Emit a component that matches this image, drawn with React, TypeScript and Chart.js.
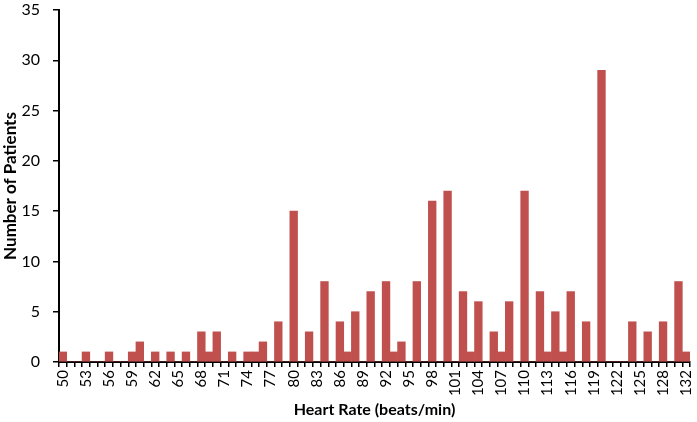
import React, { useEffect, useRef } from 'react';
import { Chart, registerables } from 'chart.js';

Chart.register(...registerables);

const heartRates: string[] = [
  '50', '51', '52', '53', '54', '55', '56', '57', '58', '59',
  '60', '61', '62', '63', '64', '65', '66', '67', '68', '69',
  '70', '71', '72', '73', '74', '75', '76', '77', '78', '79',
  '80', '81', '82', '83', '84', '85', '86', '87', '88', '89',
  '90', '91', '92', '93', '94', '95', '96', '97', '98', '99',
  '100', '101', '102', '103', '104', '105', '106', '107', '108', '109',
  '110', '111', '112', '113', '114', '115', '116', '117', '118', '119',
  '120', '121', '122', '123', '124', '125', '126', '127', '128', '129',
  '130', '132',
];

const patientCounts: number[] = [
  1, 0, 0, 1, 0, 0, 1, 0, 0, 1,
  2, 0, 1, 0, 1, 0, 1, 0, 3, 1,
  3, 0, 1, 0, 1, 1, 2, 0, 4, 0,
  15, 0, 3, 0, 8, 0, 4, 1, 5, 0,
  7, 0, 8, 1, 2, 0, 8, 0, 16, 0,
  17, 0, 7, 1, 6, 0, 3, 1, 6, 0,
  17, 0, 7, 1, 5, 1, 7, 0, 4, 0,
  29, 0, 0, 0, 4, 0, 3, 0, 4, 0,
  8, 1,
];

const yMin = 0;
const yMax = 35;
const yStep = 5;
const labelEvery = 3;

const FONT = 'Lato, "Open Sans", "DejaVu Sans", sans-serif';

export default function App() {
  const canvasRef = useRef<HTMLCanvasElement | null>(null);

  useEffect(() => {
    if (!canvasRef.current) return;
    const chart = new Chart(canvasRef.current, {
      type: 'bar',
      data: {
        labels: heartRates,
        datasets: [
          {
            data: patientCounts,
            backgroundColor: '#C0504D',
            borderWidth: 0,
            barPercentage: 1,
            categoryPercentage: 1,
          },
        ],
      },
      options: {
        animation: false,
        responsive: true,
        maintainAspectRatio: false,
        layout: { padding: { left: 0, right: 7, top: 10, bottom: 0 } },
        plugins: {
          legend: { display: false },
          tooltip: { enabled: false },
        },
        scales: {
          x: {
            offset: true,
            grid: {
              display: true,
              offset: true,
              drawOnChartArea: false,
              drawTicks: true,
              tickLength: 5,
              color: '#000',
              lineWidth: 1.5,
            },
            border: { display: true, color: '#000', width: 2 },
            ticks: {
              autoSkip: false,
              maxRotation: 90,
              minRotation: 90,
              padding: 3,
              color: '#000',
              font: { family: FONT, size: 15 },
              callback: (_v: any, i: number) => (i % labelEvery === 0 ? heartRates[i] : ''),
            },
            title: {
              display: true,
              text: 'Heart Rate (beats/min)',
              color: '#000',
              font: { family: FONT, size: 16, weight: 'bold' },
              padding: { top: 0, bottom: 3 },
            },
            afterFit: (s: any) => {
              s.height = 60;
              s.paddingLeft = 0;
              s.paddingRight = 0;
            },
          },
          y: {
            min: yMin,
            max: yMax,
            ticks: {
              stepSize: yStep,
              padding: 13,
              color: '#000',
              font: { family: FONT, size: 16 },
            },
            grid: {
              display: true,
              drawOnChartArea: false,
              drawTicks: true,
              tickLength: 6,
              color: '#000',
              lineWidth: 1.5,
            },
            border: { display: true, color: '#000', width: 2 },
            title: {
              display: true,
              text: 'Number of Patients',
              color: '#000',
              font: { family: FONT, size: 17, weight: 'bold' },
              padding: { top: 0, bottom: 0 },
            },
            afterFit: (s: any) => {
              s.width = 59;
              s.paddingTop = 0;
              s.paddingBottom = 0;
            },
          },
        },
      },
    });
    return () => chart.destroy();
  }, []);

  return (
    <div style={{ position: 'fixed', left: 0, top: 0, width: 697, height: 422 }}>
      <canvas ref={canvasRef} />
    </div>
  );
}
